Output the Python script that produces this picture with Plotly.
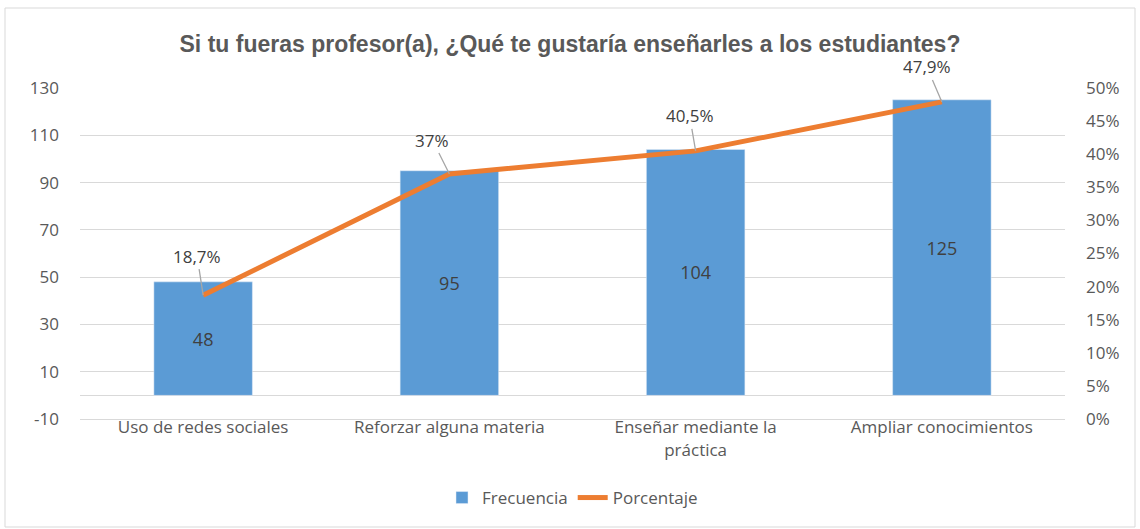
import plotly.graph_objects as go

categories = ["Uso de redes sociales", "Reforzar alguna materia", "Enseñar mediante la<br>práctica", "Ampliar conocimientos"]
frecuencia = [48, 95, 104, 125]
porcentaje = [0.187, 0.37, 0.405, 0.479]
porcentaje_labels = ["18,7%", "37%", "40,5%", "47,9%"]
label_offsets = [(-6, -39), (-17, -34), (-6, -35), (-15, -35)]
left_ticks = [-10, 10, 30, 50, 70, 90, 110, 130]
left_ticktext = ["-10", "10", "30", "50", "70", "90", "110", "130"]
right_ticks = [0, 0.05, 0.10, 0.15, 0.20, 0.25, 0.30, 0.35, 0.40, 0.45, 0.50]

FONT = "Open Sans"
GRAY = "#595959"

fig = go.Figure()
fig.add_trace(go.Bar(
    x=categories, y=frecuencia, name="Frecuencia",
    marker_color="#5B9BD5", width=0.4,
    text=[str(v) for v in frecuencia], textposition="inside",
    insidetextanchor="middle", textangle=0,
    textfont=dict(size=18, color="#404040", family=FONT),
))
fig.add_trace(go.Scatter(
    x=categories, y=porcentaje, name="Porcentaje", yaxis="y2",
    mode="lines", line=dict(color="#ED7D31", width=5),
))

for c, p, t, (ax, ay) in zip(categories, porcentaje, porcentaje_labels, label_offsets):
    fig.add_annotation(x=c, y=p, xref="x", yref="y2", text=t,
                       showarrow=True, arrowhead=0, arrowwidth=1.3, arrowcolor="#a6a6a6",
                       ax=ax, ay=ay, standoff=0,
                       font=dict(size=17, color="#404040", family=FONT))

W, H = 1140, 529
L, R, T, B = 80, 75, 88, 110
pw, ph = W - L - R, H - T - B
fig.add_shape(type="rect", xref="paper", yref="paper",
              x0=(5 - L) / pw, x1=(1135 - L) / pw,
              y0=(H - B - 527) / ph, y1=(H - B - 8) / ph,
              line=dict(color="#d9d9d9", width=1), fillcolor="rgba(0,0,0,0)", layer="below")

fig.update_layout(
    width=W, height=H,
    margin=dict(l=L, r=R, t=T, b=B),
    paper_bgcolor="white", plot_bgcolor="white",
    title=dict(text="<b>Si tu fueras profesor(a), ¿Qué te gustaría enseñarles a los estudiantes?</b>",
               x=0.5, xanchor="center", y=1 - 44 / H, yanchor="middle",
               font=dict(size=23, color=GRAY, family="Liberation Sans")),
    font=dict(family=FONT, color=GRAY, size=17),
    xaxis=dict(showgrid=False, showline=True, linecolor="#d9d9d9", linewidth=1, ticks="",
               ticklabelstandoff=-7, tickfont=dict(size=17, color=GRAY)),
    yaxis=dict(range=[-10, 130], tickvals=left_ticks, ticktext=left_ticktext,
               showgrid=True, gridcolor="#d9d9d9",
               zeroline=True, zerolinecolor="#d9d9d9", zerolinewidth=1,
               showline=False, ticks="", ticklabelstandoff=20, tickfont=dict(size=17, color=GRAY)),
    yaxis2=dict(range=[0, 0.5], tickvals=right_ticks, tickformat=".0%", overlaying="y",
                side="right", showgrid=False, zeroline=False, showline=False, ticks="",
                ticklabelstandoff=20, tickfont=dict(size=17, color=GRAY)),
    legend=dict(orientation="h", x=0.5, xanchor="center", y=(H - B - 498) / ph, yanchor="middle",
                font=dict(size=17, color=GRAY)),
    bargap=0.6,
)

fig.write_html("out.html", config={"displayModeBar": False},
               post_script="document.body.style.margin='0';")
